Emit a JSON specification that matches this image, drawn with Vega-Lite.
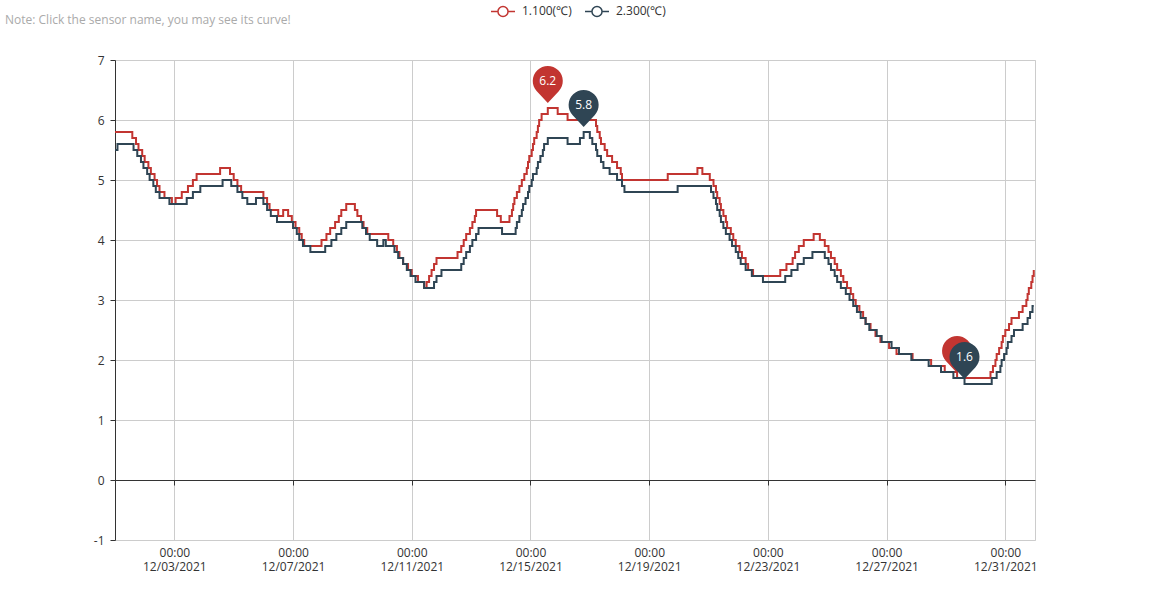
{
  "$schema": "https://vega.github.io/schema/vega-lite/v6.json",
  "autosize": {"type": "none"},
  "width": 920,
  "height": 480,
  "padding": {"left": 115, "top": 60, "right": 115, "bottom": 60},
  "background": "white",
  "config": {
    "font": "Open Sans",
    "view": {"stroke": "#ccc", "strokeWidth": 1},
    "axis": {"labelFont": "Open Sans", "labelFontSize": 12, "labelColor": "#333", "gridColor": "#ccc", "gridWidth": 1, "domainColor": "#333", "tickColor": "#333", "tickSize": 5}
  },
  "title": {"text": "Note: Click the sensor name, you may see its curve!", "anchor": "start", "frame": "group", "fontSize": 12, "fontWeight": "normal", "color": "#aaa", "font": "Open Sans", "dx": -110, "offset": -29},
  "datasets": {
    "temps": [
      {"s":"1.100(℃)","t":"2021-12-01T00:00:00","v":5.8},{"s":"1.100(℃)","t":"2021-12-01T14:00:00","v":5.7},{"s":"1.100(℃)","t":"2021-12-01T17:00:00","v":5.6},{"s":"1.100(℃)","t":"2021-12-01T19:00:00","v":5.5},{"s":"1.100(℃)","t":"2021-12-01T22:00:00","v":5.4},
      {"s":"1.100(℃)","t":"2021-12-02T00:00:00","v":5.3},{"s":"1.100(℃)","t":"2021-12-02T03:00:00","v":5.2},{"s":"1.100(℃)","t":"2021-12-02T05:00:00","v":5.1},{"s":"1.100(℃)","t":"2021-12-02T08:00:00","v":5.0},{"s":"1.100(℃)","t":"2021-12-02T10:00:00","v":4.9},
      {"s":"1.100(℃)","t":"2021-12-02T12:00:00","v":4.8},{"s":"1.100(℃)","t":"2021-12-02T16:00:00","v":4.7},{"s":"1.100(℃)","t":"2021-12-02T22:00:00","v":4.6},{"s":"1.100(℃)","t":"2021-12-03T01:00:00","v":4.7},{"s":"1.100(℃)","t":"2021-12-03T06:00:00","v":4.8},
      {"s":"1.100(℃)","t":"2021-12-03T11:00:00","v":4.9},{"s":"1.100(℃)","t":"2021-12-03T15:00:00","v":5.0},{"s":"1.100(℃)","t":"2021-12-03T18:00:00","v":5.1},{"s":"1.100(℃)","t":"2021-12-04T13:00:00","v":5.2},{"s":"1.100(℃)","t":"2021-12-04T21:00:00","v":5.1},
      {"s":"1.100(℃)","t":"2021-12-05T00:00:00","v":5.0},{"s":"1.100(℃)","t":"2021-12-05T03:00:00","v":4.9},{"s":"1.100(℃)","t":"2021-12-05T06:00:00","v":4.8},{"s":"1.100(℃)","t":"2021-12-06T00:00:00","v":4.7},{"s":"1.100(℃)","t":"2021-12-06T03:00:00","v":4.6},
      {"s":"1.100(℃)","t":"2021-12-06T05:00:00","v":4.5},{"s":"1.100(℃)","t":"2021-12-06T12:00:00","v":4.4},{"s":"1.100(℃)","t":"2021-12-06T16:00:00","v":4.5},{"s":"1.100(℃)","t":"2021-12-06T20:00:00","v":4.4},{"s":"1.100(℃)","t":"2021-12-06T23:00:00","v":4.3},
      {"s":"1.100(℃)","t":"2021-12-07T02:00:00","v":4.2},{"s":"1.100(℃)","t":"2021-12-07T05:00:00","v":4.1},{"s":"1.100(℃)","t":"2021-12-07T07:00:00","v":4.0},{"s":"1.100(℃)","t":"2021-12-07T09:00:00","v":3.9},{"s":"1.100(℃)","t":"2021-12-07T23:00:00","v":4.0},
      {"s":"1.100(℃)","t":"2021-12-08T03:00:00","v":4.1},{"s":"1.100(℃)","t":"2021-12-08T06:00:00","v":4.2},{"s":"1.100(℃)","t":"2021-12-08T10:00:00","v":4.3},{"s":"1.100(℃)","t":"2021-12-08T13:00:00","v":4.4},{"s":"1.100(℃)","t":"2021-12-08T15:00:00","v":4.5},
      {"s":"1.100(℃)","t":"2021-12-08T19:00:00","v":4.6},{"s":"1.100(℃)","t":"2021-12-09T02:00:00","v":4.5},{"s":"1.100(℃)","t":"2021-12-09T04:00:00","v":4.4},{"s":"1.100(℃)","t":"2021-12-09T07:00:00","v":4.3},{"s":"1.100(℃)","t":"2021-12-09T09:00:00","v":4.2},
      {"s":"1.100(℃)","t":"2021-12-09T12:00:00","v":4.1},{"s":"1.100(℃)","t":"2021-12-10T05:00:00","v":4.0},{"s":"1.100(℃)","t":"2021-12-10T09:00:00","v":3.9},{"s":"1.100(℃)","t":"2021-12-10T12:00:00","v":3.8},{"s":"1.100(℃)","t":"2021-12-10T14:00:00","v":3.7},
      {"s":"1.100(℃)","t":"2021-12-10T17:00:00","v":3.6},{"s":"1.100(℃)","t":"2021-12-10T21:00:00","v":3.5},{"s":"1.100(℃)","t":"2021-12-11T00:00:00","v":3.4},{"s":"1.100(℃)","t":"2021-12-11T05:00:00","v":3.3},{"s":"1.100(℃)","t":"2021-12-11T10:00:00","v":3.2},
      {"s":"1.100(℃)","t":"2021-12-11T12:00:00","v":3.3},{"s":"1.100(℃)","t":"2021-12-11T14:00:00","v":3.4},{"s":"1.100(℃)","t":"2021-12-11T16:00:00","v":3.5},{"s":"1.100(℃)","t":"2021-12-11T18:00:00","v":3.6},{"s":"1.100(℃)","t":"2021-12-11T20:00:00","v":3.7},
      {"s":"1.100(℃)","t":"2021-12-12T13:00:00","v":3.8},{"s":"1.100(℃)","t":"2021-12-12T16:00:00","v":3.9},{"s":"1.100(℃)","t":"2021-12-12T18:00:00","v":4.0},{"s":"1.100(℃)","t":"2021-12-12T20:00:00","v":4.1},{"s":"1.100(℃)","t":"2021-12-12T23:00:00","v":4.2},
      {"s":"1.100(℃)","t":"2021-12-13T01:00:00","v":4.3},{"s":"1.100(℃)","t":"2021-12-13T03:00:00","v":4.4},{"s":"1.100(℃)","t":"2021-12-13T04:00:00","v":4.5},{"s":"1.100(℃)","t":"2021-12-13T21:00:00","v":4.4},{"s":"1.100(℃)","t":"2021-12-14T00:00:00","v":4.3},
      {"s":"1.100(℃)","t":"2021-12-14T07:00:00","v":4.4},{"s":"1.100(℃)","t":"2021-12-14T09:00:00","v":4.5},{"s":"1.100(℃)","t":"2021-12-14T10:00:00","v":4.6},{"s":"1.100(℃)","t":"2021-12-14T11:00:00","v":4.7},{"s":"1.100(℃)","t":"2021-12-14T13:00:00","v":4.8},
      {"s":"1.100(℃)","t":"2021-12-14T15:00:00","v":4.9},{"s":"1.100(℃)","t":"2021-12-14T17:00:00","v":5.0},{"s":"1.100(℃)","t":"2021-12-14T19:00:00","v":5.1},{"s":"1.100(℃)","t":"2021-12-14T21:00:00","v":5.2},{"s":"1.100(℃)","t":"2021-12-14T22:00:00","v":5.3},
      {"s":"1.100(℃)","t":"2021-12-14T23:00:00","v":5.4},{"s":"1.100(℃)","t":"2021-12-15T01:00:00","v":5.5},{"s":"1.100(℃)","t":"2021-12-15T02:00:00","v":5.6},{"s":"1.100(℃)","t":"2021-12-15T03:00:00","v":5.7},{"s":"1.100(℃)","t":"2021-12-15T05:00:00","v":5.8},
      {"s":"1.100(℃)","t":"2021-12-15T06:00:00","v":5.9},{"s":"1.100(℃)","t":"2021-12-15T07:00:00","v":6.0},{"s":"1.100(℃)","t":"2021-12-15T09:00:00","v":6.1},{"s":"1.100(℃)","t":"2021-12-15T14:00:00","v":6.2},{"s":"1.100(℃)","t":"2021-12-15T22:00:00","v":6.1},
      {"s":"1.100(℃)","t":"2021-12-16T06:00:00","v":6.0},{"s":"1.100(℃)","t":"2021-12-17T05:00:00","v":5.9},{"s":"1.100(℃)","t":"2021-12-17T06:00:00","v":5.8},{"s":"1.100(℃)","t":"2021-12-17T08:00:00","v":5.7},{"s":"1.100(℃)","t":"2021-12-17T09:00:00","v":5.6},
      {"s":"1.100(℃)","t":"2021-12-17T12:00:00","v":5.5},{"s":"1.100(℃)","t":"2021-12-17T14:00:00","v":5.4},{"s":"1.100(℃)","t":"2021-12-17T18:00:00","v":5.3},{"s":"1.100(℃)","t":"2021-12-17T22:00:00","v":5.2},{"s":"1.100(℃)","t":"2021-12-18T01:00:00","v":5.1},
      {"s":"1.100(℃)","t":"2021-12-18T02:00:00","v":5.0},{"s":"1.100(℃)","t":"2021-12-19T15:00:00","v":5.1},{"s":"1.100(℃)","t":"2021-12-20T15:00:00","v":5.2},{"s":"1.100(℃)","t":"2021-12-20T19:00:00","v":5.1},{"s":"1.100(℃)","t":"2021-12-21T01:00:00","v":5.0},
      {"s":"1.100(℃)","t":"2021-12-21T04:00:00","v":4.9},{"s":"1.100(℃)","t":"2021-12-21T06:00:00","v":4.8},{"s":"1.100(℃)","t":"2021-12-21T07:00:00","v":4.7},{"s":"1.100(℃)","t":"2021-12-21T09:00:00","v":4.6},{"s":"1.100(℃)","t":"2021-12-21T10:00:00","v":4.5},
      {"s":"1.100(℃)","t":"2021-12-21T12:00:00","v":4.4},{"s":"1.100(℃)","t":"2021-12-21T14:00:00","v":4.3},{"s":"1.100(℃)","t":"2021-12-21T15:00:00","v":4.2},{"s":"1.100(℃)","t":"2021-12-21T18:00:00","v":4.1},{"s":"1.100(℃)","t":"2021-12-21T20:00:00","v":4.0},
      {"s":"1.100(℃)","t":"2021-12-21T22:00:00","v":3.9},{"s":"1.100(℃)","t":"2021-12-22T01:00:00","v":3.8},{"s":"1.100(℃)","t":"2021-12-22T03:00:00","v":3.7},{"s":"1.100(℃)","t":"2021-12-22T06:00:00","v":3.6},{"s":"1.100(℃)","t":"2021-12-22T08:00:00","v":3.5},
      {"s":"1.100(℃)","t":"2021-12-22T12:00:00","v":3.4},{"s":"1.100(℃)","t":"2021-12-23T10:00:00","v":3.5},{"s":"1.100(℃)","t":"2021-12-23T15:00:00","v":3.6},{"s":"1.100(℃)","t":"2021-12-23T20:00:00","v":3.7},{"s":"1.100(℃)","t":"2021-12-23T22:00:00","v":3.8},
      {"s":"1.100(℃)","t":"2021-12-24T01:00:00","v":3.9},{"s":"1.100(℃)","t":"2021-12-24T05:00:00","v":4.0},{"s":"1.100(℃)","t":"2021-12-24T13:00:00","v":4.1},{"s":"1.100(℃)","t":"2021-12-24T18:00:00","v":4.0},{"s":"1.100(℃)","t":"2021-12-24T22:00:00","v":3.9},
      {"s":"1.100(℃)","t":"2021-12-25T01:00:00","v":3.8},{"s":"1.100(℃)","t":"2021-12-25T03:00:00","v":3.7},{"s":"1.100(℃)","t":"2021-12-25T06:00:00","v":3.6},{"s":"1.100(℃)","t":"2021-12-25T08:00:00","v":3.5},{"s":"1.100(℃)","t":"2021-12-25T11:00:00","v":3.4},
      {"s":"1.100(℃)","t":"2021-12-25T13:00:00","v":3.3},{"s":"1.100(℃)","t":"2021-12-25T16:00:00","v":3.2},{"s":"1.100(℃)","t":"2021-12-25T19:00:00","v":3.1},{"s":"1.100(℃)","t":"2021-12-25T21:00:00","v":3.0},{"s":"1.100(℃)","t":"2021-12-25T23:00:00","v":2.9},
      {"s":"1.100(℃)","t":"2021-12-26T02:00:00","v":2.8},{"s":"1.100(℃)","t":"2021-12-26T05:00:00","v":2.7},{"s":"1.100(℃)","t":"2021-12-26T07:00:00","v":2.6},{"s":"1.100(℃)","t":"2021-12-26T11:00:00","v":2.5},{"s":"1.100(℃)","t":"2021-12-26T15:00:00","v":2.4},
      {"s":"1.100(℃)","t":"2021-12-26T19:00:00","v":2.3},{"s":"1.100(℃)","t":"2021-12-27T02:00:00","v":2.2},{"s":"1.100(℃)","t":"2021-12-27T08:00:00","v":2.1},{"s":"1.100(℃)","t":"2021-12-27T21:00:00","v":2.0},{"s":"1.100(℃)","t":"2021-12-28T12:00:00","v":1.9},
      {"s":"1.100(℃)","t":"2021-12-28T23:00:00","v":1.8},{"s":"1.100(℃)","t":"2021-12-29T09:00:00","v":1.7},{"s":"1.100(℃)","t":"2021-12-30T12:00:00","v":1.8},{"s":"1.100(℃)","t":"2021-12-30T14:00:00","v":1.9},{"s":"1.100(℃)","t":"2021-12-30T16:00:00","v":2.0},
      {"s":"1.100(℃)","t":"2021-12-30T17:00:00","v":2.1},{"s":"1.100(℃)","t":"2021-12-30T19:00:00","v":2.2},{"s":"1.100(℃)","t":"2021-12-30T21:00:00","v":2.3},{"s":"1.100(℃)","t":"2021-12-30T22:00:00","v":2.4},{"s":"1.100(℃)","t":"2021-12-31T00:00:00","v":2.5},
      {"s":"1.100(℃)","t":"2021-12-31T03:00:00","v":2.6},{"s":"1.100(℃)","t":"2021-12-31T05:00:00","v":2.7},{"s":"1.100(℃)","t":"2021-12-31T11:00:00","v":2.8},{"s":"1.100(℃)","t":"2021-12-31T14:00:00","v":2.9},{"s":"1.100(℃)","t":"2021-12-31T17:00:00","v":3.0},
      {"s":"1.100(℃)","t":"2021-12-31T18:00:00","v":3.1},{"s":"1.100(℃)","t":"2021-12-31T19:00:00","v":3.2},{"s":"1.100(℃)","t":"2021-12-31T21:00:00","v":3.3},{"s":"1.100(℃)","t":"2021-12-31T22:00:00","v":3.4},{"s":"1.100(℃)","t":"2021-12-31T23:00:00","v":3.5},

      {"s":"2.300(℃)","t":"2021-12-01T00:00:00","v":5.5},{"s":"2.300(℃)","t":"2021-12-01T02:00:00","v":5.6},{"s":"2.300(℃)","t":"2021-12-01T15:00:00","v":5.5},{"s":"2.300(℃)","t":"2021-12-01T18:00:00","v":5.4},{"s":"2.300(℃)","t":"2021-12-01T21:00:00","v":5.3},
      {"s":"2.300(℃)","t":"2021-12-01T23:00:00","v":5.2},{"s":"2.300(℃)","t":"2021-12-02T02:00:00","v":5.1},{"s":"2.300(℃)","t":"2021-12-02T04:00:00","v":5.0},{"s":"2.300(℃)","t":"2021-12-02T07:00:00","v":4.9},{"s":"2.300(℃)","t":"2021-12-02T09:00:00","v":4.8},
      {"s":"2.300(℃)","t":"2021-12-02T12:00:00","v":4.7},{"s":"2.300(℃)","t":"2021-12-02T20:00:00","v":4.6},{"s":"2.300(℃)","t":"2021-12-03T10:00:00","v":4.7},{"s":"2.300(℃)","t":"2021-12-03T15:00:00","v":4.8},{"s":"2.300(℃)","t":"2021-12-03T21:00:00","v":4.9},
      {"s":"2.300(℃)","t":"2021-12-04T15:00:00","v":5.0},{"s":"2.300(℃)","t":"2021-12-04T22:00:00","v":4.9},{"s":"2.300(℃)","t":"2021-12-05T03:00:00","v":4.8},{"s":"2.300(℃)","t":"2021-12-05T07:00:00","v":4.7},{"s":"2.300(℃)","t":"2021-12-05T11:00:00","v":4.6},
      {"s":"2.300(℃)","t":"2021-12-05T18:00:00","v":4.7},{"s":"2.300(℃)","t":"2021-12-06T00:00:00","v":4.6},{"s":"2.300(℃)","t":"2021-12-06T03:00:00","v":4.5},{"s":"2.300(℃)","t":"2021-12-06T06:00:00","v":4.4},{"s":"2.300(℃)","t":"2021-12-06T11:00:00","v":4.3},
      {"s":"2.300(℃)","t":"2021-12-07T00:00:00","v":4.2},{"s":"2.300(℃)","t":"2021-12-07T03:00:00","v":4.1},{"s":"2.300(℃)","t":"2021-12-07T05:00:00","v":4.0},{"s":"2.300(℃)","t":"2021-12-07T08:00:00","v":3.9},{"s":"2.300(℃)","t":"2021-12-07T14:00:00","v":3.8},
      {"s":"2.300(℃)","t":"2021-12-08T02:00:00","v":3.9},{"s":"2.300(℃)","t":"2021-12-08T07:00:00","v":4.0},{"s":"2.300(℃)","t":"2021-12-08T11:00:00","v":4.1},{"s":"2.300(℃)","t":"2021-12-08T15:00:00","v":4.2},{"s":"2.300(℃)","t":"2021-12-08T19:00:00","v":4.3},
      {"s":"2.300(℃)","t":"2021-12-09T08:00:00","v":4.2},{"s":"2.300(℃)","t":"2021-12-09T11:00:00","v":4.1},{"s":"2.300(℃)","t":"2021-12-09T14:00:00","v":4.0},{"s":"2.300(℃)","t":"2021-12-09T20:00:00","v":3.9},{"s":"2.300(℃)","t":"2021-12-10T01:00:00","v":4.0},
      {"s":"2.300(℃)","t":"2021-12-10T03:00:00","v":3.9},{"s":"2.300(℃)","t":"2021-12-10T10:00:00","v":3.8},{"s":"2.300(℃)","t":"2021-12-10T13:00:00","v":3.7},{"s":"2.300(℃)","t":"2021-12-10T17:00:00","v":3.6},{"s":"2.300(℃)","t":"2021-12-10T20:00:00","v":3.5},
      {"s":"2.300(℃)","t":"2021-12-10T23:00:00","v":3.4},{"s":"2.300(℃)","t":"2021-12-11T03:00:00","v":3.3},{"s":"2.300(℃)","t":"2021-12-11T10:00:00","v":3.2},{"s":"2.300(℃)","t":"2021-12-11T18:00:00","v":3.3},{"s":"2.300(℃)","t":"2021-12-11T20:00:00","v":3.4},
      {"s":"2.300(℃)","t":"2021-12-12T00:00:00","v":3.5},{"s":"2.300(℃)","t":"2021-12-12T16:00:00","v":3.6},{"s":"2.300(℃)","t":"2021-12-12T18:00:00","v":3.7},{"s":"2.300(℃)","t":"2021-12-12T20:00:00","v":3.8},{"s":"2.300(℃)","t":"2021-12-12T23:00:00","v":3.9},
      {"s":"2.300(℃)","t":"2021-12-13T01:00:00","v":4.0},{"s":"2.300(℃)","t":"2021-12-13T04:00:00","v":4.1},{"s":"2.300(℃)","t":"2021-12-13T06:00:00","v":4.2},{"s":"2.300(℃)","t":"2021-12-14T01:00:00","v":4.1},{"s":"2.300(℃)","t":"2021-12-14T12:00:00","v":4.2},
      {"s":"2.300(℃)","t":"2021-12-14T13:00:00","v":4.3},{"s":"2.300(℃)","t":"2021-12-14T15:00:00","v":4.4},{"s":"2.300(℃)","t":"2021-12-14T17:00:00","v":4.5},{"s":"2.300(℃)","t":"2021-12-14T18:00:00","v":4.6},{"s":"2.300(℃)","t":"2021-12-14T20:00:00","v":4.7},
      {"s":"2.300(℃)","t":"2021-12-14T22:00:00","v":4.8},{"s":"2.300(℃)","t":"2021-12-14T23:00:00","v":4.9},{"s":"2.300(℃)","t":"2021-12-15T01:00:00","v":5.0},{"s":"2.300(℃)","t":"2021-12-15T02:00:00","v":5.1},{"s":"2.300(℃)","t":"2021-12-15T05:00:00","v":5.2},
      {"s":"2.300(℃)","t":"2021-12-15T06:00:00","v":5.3},{"s":"2.300(℃)","t":"2021-12-15T08:00:00","v":5.4},{"s":"2.300(℃)","t":"2021-12-15T10:00:00","v":5.5},{"s":"2.300(℃)","t":"2021-12-15T11:00:00","v":5.6},{"s":"2.300(℃)","t":"2021-12-15T14:00:00","v":5.7},
      {"s":"2.300(℃)","t":"2021-12-16T06:00:00","v":5.6},{"s":"2.300(℃)","t":"2021-12-16T16:00:00","v":5.7},{"s":"2.300(℃)","t":"2021-12-16T19:00:00","v":5.8},{"s":"2.300(℃)","t":"2021-12-17T00:00:00","v":5.7},{"s":"2.300(℃)","t":"2021-12-17T02:00:00","v":5.6},
      {"s":"2.300(℃)","t":"2021-12-17T05:00:00","v":5.5},{"s":"2.300(℃)","t":"2021-12-17T06:00:00","v":5.4},{"s":"2.300(℃)","t":"2021-12-17T09:00:00","v":5.3},{"s":"2.300(℃)","t":"2021-12-17T11:00:00","v":5.2},{"s":"2.300(℃)","t":"2021-12-17T16:00:00","v":5.1},
      {"s":"2.300(℃)","t":"2021-12-17T22:00:00","v":5.0},{"s":"2.300(℃)","t":"2021-12-18T02:00:00","v":4.9},{"s":"2.300(℃)","t":"2021-12-18T04:00:00","v":4.8},{"s":"2.300(℃)","t":"2021-12-19T23:00:00","v":4.9},{"s":"2.300(℃)","t":"2021-12-21T02:00:00","v":4.8},
      {"s":"2.300(℃)","t":"2021-12-21T04:00:00","v":4.7},{"s":"2.300(℃)","t":"2021-12-21T06:00:00","v":4.6},{"s":"2.300(℃)","t":"2021-12-21T07:00:00","v":4.5},{"s":"2.300(℃)","t":"2021-12-21T09:00:00","v":4.4},{"s":"2.300(℃)","t":"2021-12-21T10:00:00","v":4.3},
      {"s":"2.300(℃)","t":"2021-12-21T12:00:00","v":4.2},{"s":"2.300(℃)","t":"2021-12-21T14:00:00","v":4.1},{"s":"2.300(℃)","t":"2021-12-21T17:00:00","v":4.0},{"s":"2.300(℃)","t":"2021-12-21T19:00:00","v":3.9},{"s":"2.300(℃)","t":"2021-12-21T22:00:00","v":3.8},
      {"s":"2.300(℃)","t":"2021-12-22T00:00:00","v":3.7},{"s":"2.300(℃)","t":"2021-12-22T02:00:00","v":3.6},{"s":"2.300(℃)","t":"2021-12-22T06:00:00","v":3.5},{"s":"2.300(℃)","t":"2021-12-22T11:00:00","v":3.4},{"s":"2.300(℃)","t":"2021-12-22T20:00:00","v":3.3},
      {"s":"2.300(℃)","t":"2021-12-23T14:00:00","v":3.4},{"s":"2.300(℃)","t":"2021-12-23T19:00:00","v":3.5},{"s":"2.300(℃)","t":"2021-12-24T00:00:00","v":3.6},{"s":"2.300(℃)","t":"2021-12-24T05:00:00","v":3.7},{"s":"2.300(℃)","t":"2021-12-24T12:00:00","v":3.8},
      {"s":"2.300(℃)","t":"2021-12-24T22:00:00","v":3.7},{"s":"2.300(℃)","t":"2021-12-25T01:00:00","v":3.6},{"s":"2.300(℃)","t":"2021-12-25T03:00:00","v":3.5},{"s":"2.300(℃)","t":"2021-12-25T06:00:00","v":3.4},{"s":"2.300(℃)","t":"2021-12-25T08:00:00","v":3.3},
      {"s":"2.300(℃)","t":"2021-12-25T11:00:00","v":3.2},{"s":"2.300(℃)","t":"2021-12-25T15:00:00","v":3.1},{"s":"2.300(℃)","t":"2021-12-25T18:00:00","v":3.0},{"s":"2.300(℃)","t":"2021-12-25T21:00:00","v":2.9},{"s":"2.300(℃)","t":"2021-12-26T00:00:00","v":2.8},
      {"s":"2.300(℃)","t":"2021-12-26T03:00:00","v":2.7},{"s":"2.300(℃)","t":"2021-12-26T07:00:00","v":2.6},{"s":"2.300(℃)","t":"2021-12-26T10:00:00","v":2.5},{"s":"2.300(℃)","t":"2021-12-26T16:00:00","v":2.4},{"s":"2.300(℃)","t":"2021-12-26T20:00:00","v":2.3},
      {"s":"2.300(℃)","t":"2021-12-27T04:00:00","v":2.2},{"s":"2.300(℃)","t":"2021-12-27T10:00:00","v":2.1},{"s":"2.300(℃)","t":"2021-12-27T20:00:00","v":2.0},{"s":"2.300(℃)","t":"2021-12-28T10:00:00","v":1.9},{"s":"2.300(℃)","t":"2021-12-28T20:00:00","v":1.8},
      {"s":"2.300(℃)","t":"2021-12-29T06:00:00","v":1.7},{"s":"2.300(℃)","t":"2021-12-29T15:00:00","v":1.6},{"s":"2.300(℃)","t":"2021-12-30T13:00:00","v":1.7},{"s":"2.300(℃)","t":"2021-12-30T17:00:00","v":1.8},{"s":"2.300(℃)","t":"2021-12-30T20:00:00","v":1.9},
      {"s":"2.300(℃)","t":"2021-12-30T21:00:00","v":2.0},{"s":"2.300(℃)","t":"2021-12-30T23:00:00","v":2.1},{"s":"2.300(℃)","t":"2021-12-31T01:00:00","v":2.2},{"s":"2.300(℃)","t":"2021-12-31T02:00:00","v":2.3},{"s":"2.300(℃)","t":"2021-12-31T05:00:00","v":2.4},
      {"s":"2.300(℃)","t":"2021-12-31T07:00:00","v":2.5},{"s":"2.300(℃)","t":"2021-12-31T14:00:00","v":2.6},{"s":"2.300(℃)","t":"2021-12-31T18:00:00","v":2.7},{"s":"2.300(℃)","t":"2021-12-31T20:00:00","v":2.8},{"s":"2.300(℃)","t":"2021-12-31T22:00:00","v":2.9},
      {"s":"2.300(℃)","t":"2021-12-31T23:00:00","v":2.9}
    ],
    "peaks": [
      {"s":"1.100(℃)","t":"2021-12-15T14:00:00","v":6.2},
      {"s":"2.300(℃)","t":"2021-12-16T19:00:00","v":5.8},
      {"s":"1.100(℃)","t":"2021-12-29T09:00:00","v":1.7},
      {"s":"2.300(℃)","t":"2021-12-29T15:00:00","v":1.6}
    ]
  },
  "layer": [
    {
      "data": {"name": "temps"},
      "mark": {"type": "line", "interpolate": "step-after", "strokeWidth": 2},
      "encoding": {
        "x": {
          "field": "t", "type": "temporal",
          "scale": {"domain": [{"year": 2021, "month": 12, "date": 1, "hours": 0}, {"year": 2022, "month": 1, "date": 1, "hours": 0}]},
          "axis": {
            "title": null,
            "values": [{"year": 2021, "month": 12, "date": 3, "hours": 0}, {"year": 2021, "month": 12, "date": 7, "hours": 0}, {"year": 2021, "month": 12, "date": 11, "hours": 0}, {"year": 2021, "month": 12, "date": 15, "hours": 0}, {"year": 2021, "month": 12, "date": 19, "hours": 0}, {"year": 2021, "month": 12, "date": 23, "hours": 0}, {"year": 2021, "month": 12, "date": 27, "hours": 0}, {"year": 2021, "month": 12, "date": 31, "hours": 0}],
            "labelExpr": "[timeFormat(datum.value, '%H:%M'), timeFormat(datum.value, '%m/%d/%Y')]",
            "offset": -60,
            "labelPadding": 62,
            "labelLineHeight": 14,
            "labelFlush": false,
            "labelOverlap": false,
            "grid": true
          }
        },
        "y": {
          "field": "v", "type": "quantitative",
          "scale": {"domain": [-1, 7], "nice": false, "zero": false},
          "axis": {"title": null, "values": [-1, 0, 1, 2, 3, 4, 5, 6, 7], "labelExpr": "'' + datum.value", "labelPadding": 6, "grid": true}
        },
        "color": {
          "field": "s", "type": "nominal",
          "scale": {"domain": ["1.100(℃)", "2.300(℃)"], "range": ["#c23531", "#2f4554"]},
          "legend": {
            "title": null, "orient": "none", "legendX": 375, "legendY": -62, "direction": "horizontal",
            "symbolType": "M -1,0 L -0.42,0 M 0.42,0 L 1,0 M 0.42,0 A 0.42 0.42 0 1 1 -0.42,0 A 0.42 0.42 0 1 1 0.42,0 M 0.42,0 A 0.42 0.42 0 1 0 -0.42,0 A 0.42 0.42 0 1 0 0.42,0",
            "symbolSize": 576, "symbolStrokeWidth": 1.5, "symbolFillColor": "#fff",
            "labelFontSize": 12, "labelColor": "#333", "labelFont": "Open Sans", "labelOffset": 6, "columnPadding": 10, "padding": 0
          }
        }
      }
    },
    {
      "data": {"name": "peaks"},
      "mark": {"type": "point", "shape": "M 0,-5 L -10.97,-16.77 A 15 15 0 1 1 10.97,-16.77 Z", "size": 4, "filled": true, "opacity": 1, "strokeWidth": 0},
      "encoding": {
        "x": {"field": "t", "type": "temporal"},
        "y": {"field": "v", "type": "quantitative"},
        "fill": {"field": "s", "type": "nominal", "scale": {"domain": ["1.100(℃)", "2.300(℃)"], "range": ["#c23531", "#2f4554"]}, "legend": null}
      }
    },
    {
      "data": {"name": "peaks"},
      "transform": [{"filter": "datum.s == '2.300(℃)' || datum.v > 3"}],
      "mark": {"type": "text", "dy": -27, "color": "white", "fontSize": 12, "font": "Open Sans", "baseline": "middle", "align": "center"},
      "encoding": {
        "x": {"field": "t", "type": "temporal"},
        "y": {"field": "v", "type": "quantitative"},
        "text": {"field": "v", "type": "quantitative", "format": ".1f"}
      }
    }
  ]
}
